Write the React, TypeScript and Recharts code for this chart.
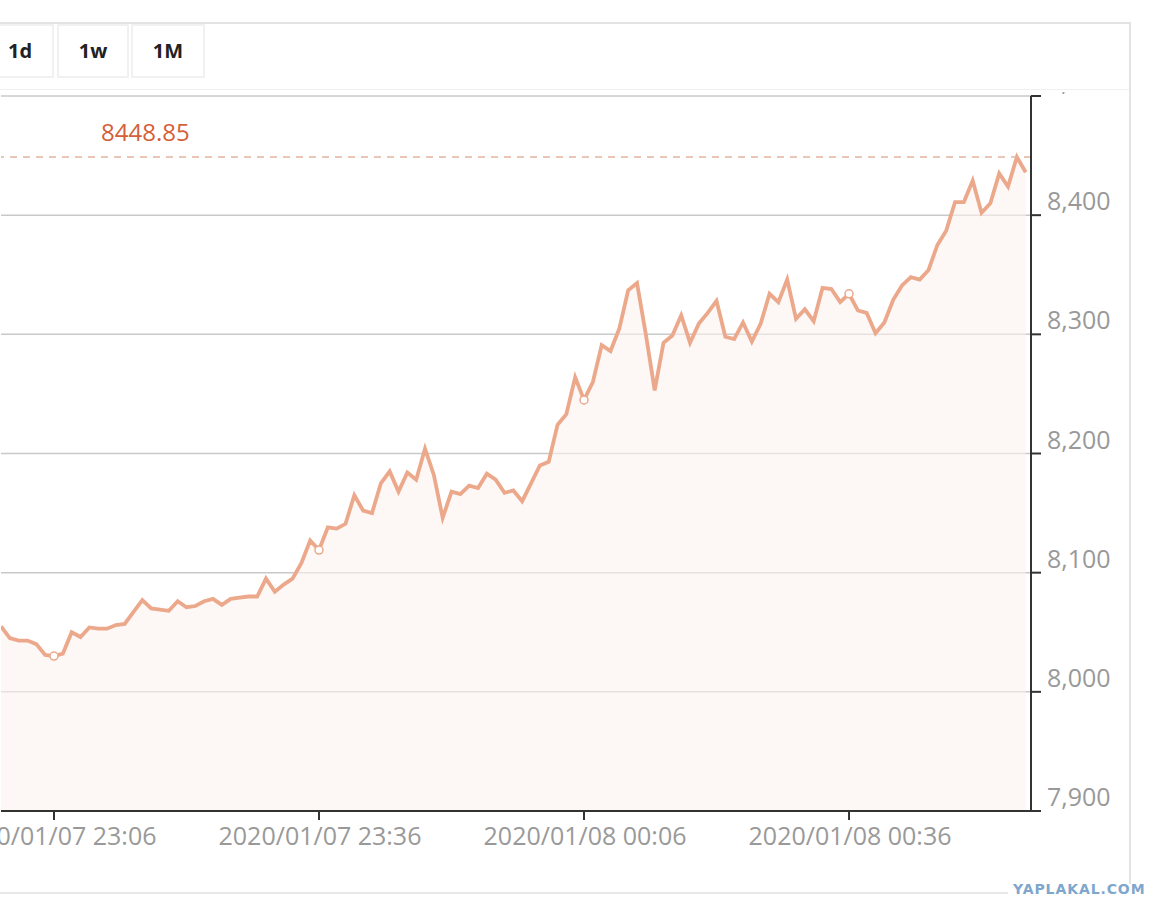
import { ComposedChart, Area, Line, XAxis, YAxis, CartesianGrid, ReferenceLine } from 'recharts';

// one price per minute, starting 2020/01/07 23:00
const PRICES = [
    8055, 8045, 8043, 8043, 8040, 8031, 8030, 8032, 8050, 8046,
    8054, 8053, 8053, 8056, 8057, 8067, 8077, 8070, 8069, 8068,
    8076, 8071, 8072, 8076, 8078, 8073, 8078, 8079, 8080, 8080,
    8095, 8084, 8090, 8095, 8108, 8127, 8119, 8138, 8137, 8141,
    8165, 8152, 8150, 8175, 8185, 8168, 8184, 8178, 8204, 8182,
    8146, 8168, 8166, 8173, 8171, 8183, 8178, 8167, 8169, 8160,
    8175, 8190, 8193, 8224, 8233, 8264, 8245, 8260, 8291, 8286,
    8305, 8337, 8343, 8300, 8253, 8293, 8299, 8316, 8293, 8309,
    8318, 8328, 8298, 8296, 8310, 8294, 8309, 8334, 8327, 8346,
    8313, 8321, 8311, 8339, 8338, 8327, 8334, 8320, 8318, 8301,
    8310, 8329, 8341, 8348, 8346, 8354, 8375, 8387, 8411, 8411,
    8429, 8402, 8410, 8435, 8424, 8448.85, 8436,
];

const TICK_INDEX = [6, 36, 66, 96];
const TICK_LABELS = ['2020/01/07 23:06', '2020/01/07 23:36', '2020/01/08 00:06', '2020/01/08 00:36'];
const Y_TICKS = [7900, 8000, 8100, 8200, 8300, 8400, 8500];
const BUTTONS = ['1d', '1w', '1M'];
const MAX_PRICE = 8448.85;

const data = PRICES.map((v, t) => ({ t, v }));

const FONT = "'Open Sans', 'Noto Sans', sans-serif";
const LINE = '#eca88b';

const XTick = ({ x, y, payload }: any) => {
    const k = TICK_INDEX.indexOf(payload.value);
    return (
        <text x={x + 1} y={y} dy={23} textAnchor="middle" fill="#999" fontSize={25} fontFamily={FONT}>
            {k >= 0 ? TICK_LABELS[k] : ''}
        </text>
    );
};

const YTick = ({ x, y, payload }: any) => (
    <text x={x} y={y} dx={4} dy={-5} textAnchor="start" fill="#999" fontSize={25} fontFamily={FONT}>
        {Number(payload.value).toLocaleString('en-US')}
    </text>
);

const renderDot = (props: any) => {
    const { cx, cy, index } = props;
    if (!TICK_INDEX.includes(index)) return <g key={`d-${index}`} />;
    return <circle key={`d-${index}`} cx={cx} cy={cy} r={4} fill="#fff" stroke={LINE} strokeWidth={1.5} />;
};

const PriceLabel = ({ viewBox }: any) => (
    <text x={(viewBox?.x ?? 0) + 100} y={(viewBox?.y ?? 0) - 16} fill="#d4603a" fontSize={24} fontFamily={FONT}>
        {MAX_PRICE.toFixed(2)}
    </text>
);

const buttonBoxes = [
    { left: -14, width: 68 },
    { left: 57, width: 72 },
    { left: 131, width: 74 },
];

export default function App() {
    return (
        <div style={{ position: 'absolute', left: 0, top: 0, width: 1175, height: 921, overflow: 'hidden', background: '#fff' }}>
            <div style={{ position: 'absolute', left: 0, top: 0 }}>
                <ComposedChart width={1175} height={921} data={data} margin={{ top: 96, right: 44, bottom: 70, left: 1 }}>
                    <CartesianGrid vertical={false} stroke="#c9c9c9" strokeWidth={1.5} />
                    <XAxis
                        dataKey="t"
                        type="number"
                        domain={[0, 116.6]}
                        ticks={TICK_INDEX}
                        allowDataOverflow
                        height={40}
                        tickSize={9}
                        axisLine={{ stroke: '#333', strokeWidth: 2 }}
                        tickLine={{ stroke: '#333', strokeWidth: 2 }}
                        tick={<XTick />}
                        interval={0}
                    />
                    <YAxis
                        orientation="right"
                        domain={[7900, 8500]}
                        ticks={Y_TICKS}
                        allowDataOverflow
                        width={100}
                        tickSize={10}
                        axisLine={{ stroke: '#333', strokeWidth: 2 }}
                        tickLine={{ stroke: '#333', strokeWidth: 2 }}
                        tick={<YTick />}
                        interval={0}
                    />
                    <Area type="linear" dataKey="v" stroke="none" fill="#fcf1ee" fillOpacity={0.6} isAnimationActive={false} />
                    <Line
                        type="linear"
                        dataKey="v"
                        stroke={LINE}
                        strokeWidth={3.8}
                        dot={renderDot}
                        activeDot={false}
                        isAnimationActive={false}
                    />
                    <ReferenceLine y={MAX_PRICE} stroke="#e4b49f" strokeWidth={1.5} strokeDasharray="7 6" label={<PriceLabel />} />
                </ComposedChart>
            </div>

            {/* toolbar strip above the chart */}
            <div style={{ position: 'absolute', left: 0, top: 0, width: 1175, height: 92, background: '#fff' }}>
                <div style={{ position: 'absolute', left: 0, top: 22, width: 1131, height: 2, background: '#e3e3e3' }} />
                <div style={{ position: 'absolute', left: 0, top: 89, width: 1131, height: 1, background: '#f0f0f0' }} />
                {BUTTONS.map((b, i) => (
                    <div
                        key={b}
                        style={{
                            position: 'absolute',
                            left: buttonBoxes[i].left,
                            top: 24,
                            width: buttonBoxes[i].width,
                            height: 54,
                            boxSizing: 'border-box',
                            border: '2px solid #f1f1f1',
                            lineHeight: '50px',
                            textAlign: 'center',
                            fontFamily: FONT,
                            fontWeight: 700,
                            fontSize: 20,
                            color: '#222',
                        }}
                    >
                        {b}
                    </div>
                ))}
            </div>

            <div style={{ position: 'absolute', left: 1129, top: 22, width: 2, height: 862, background: '#e3e3e3' }} />
            <div style={{ position: 'absolute', left: 0, top: 892, width: 1008, height: 2, background: '#e8e8e8' }} />
            <div
                style={{
                    position: 'absolute',
                    left: 1013,
                    top: 881,
                    fontFamily: "'DejaVu Sans', Verdana, sans-serif",
                    fontWeight: 900,
                    fontSize: 14,
                    letterSpacing: 0.9,
                    color: '#7fa6cc',
                }}
            >
                YAPLAKAL.COM
            </div>
        </div>
    );
}
